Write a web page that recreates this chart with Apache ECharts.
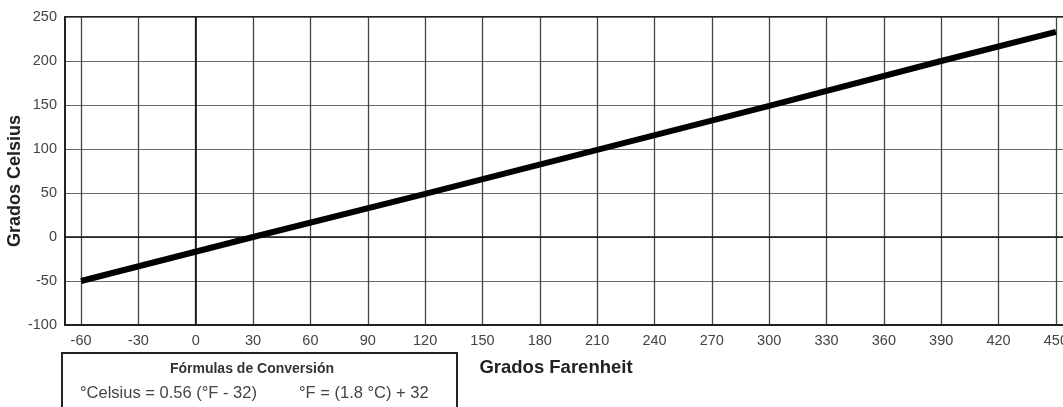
<!DOCTYPE html>
<html>
<head>
<meta charset="utf-8">
<script src="https://cdn.jsdelivr.net/npm/echarts@6/dist/echarts.min.js"></script>
<style>
html,body{margin:0;padding:0;background:#fff;}
#chart{width:1063px;height:407px;}
</style>
</head>
<body>
<div id="chart"></div>
<script>
// Data
const fahrenheit = [-60, 30, 120, 210, 300, 390, 450];
const celsius = [-50, 0, 49, 99, 149, 200, 233];
const xTicks = [-60, -30, 0, 30, 60, 90, 120, 150, 180, 210, 240, 270, 300, 330, 360, 390, 420, 450];
const zeroLines = [{ xAxis: 0 }, { yAxis: 0 }];
const xTitle = 'Grados Farenheit';
const yTitle = 'Grados Celsius';
const boxTitle = 'Fórmulas de Conversión';
const formula1 = '°Celsius = 0.56 (°F - 32)';
const formula2 = '°F = (1.8 °C) + 32';

const chart = echarts.init(document.getElementById('chart'), null, { renderer: 'canvas' });
const font = 'Liberation Sans, Arial, sans-serif';

chart.setOption({
  animation: false,
  backgroundColor: '#fff',
  grid: {
    left: 65, width: 1010, top: 17, bottom: 82,
    outerBoundsMode: 'none', containLabel: false,
    show: true, borderColor: '#222', borderWidth: 2, backgroundColor: 'transparent'
  },
  xAxis: {
    type: 'value',
    min: -68.4, max: 460,
    axisLine: { show: true, onZero: false, lineStyle: { color: '#222', width: 2 } },
    axisTick: { show: false, customValues: xTicks },
    axisLabel: {
      customValues: xTicks, margin: 8, color: '#444', fontSize: 14.5, fontFamily: font,
      showMinLabel: true, showMaxLabel: true
    },
    splitLine: { show: true, lineStyle: { color: '#444', width: 1.3 } }
  },
  yAxis: {
    type: 'value',
    min: -100, max: 250, interval: 50,
    axisLine: { show: true, onZero: false, lineStyle: { color: '#222', width: 2 } },
    axisTick: { show: false },
    axisLabel: { margin: 8, color: '#444', fontSize: 14.5, fontFamily: font },
    splitLine: { show: true, lineStyle: { color: '#6a6a6a', width: 1.2 } }
  },
  series: [{
    type: 'line',
    data: fahrenheit.map((f, i) => [f, celsius[i]]),
    showSymbol: false,
    lineStyle: { color: '#000', width: 6 },
    z: 5,
    markLine: {
      silent: true,
      symbol: 'none',
      label: { show: false },
      lineStyle: { color: '#111', width: 1.6, type: 'solid' },
      data: zeroLines
    }
  }],
  graphic: [
    {
      type: 'text', x: 15, y: 181, rotation: Math.PI / 2,
      style: { text: yTitle, font: 'bold 18px ' + font, fill: '#222', align: 'center', verticalAlign: 'middle' }
    },
    {
      type: 'text', x: 556, y: 368,
      style: { text: xTitle, font: 'bold 18.5px ' + font, fill: '#222', align: 'center', verticalAlign: 'middle' }
    },
    {
      type: 'rect', shape: { x: 62, y: 353, width: 395, height: 70 },
      style: { fill: '#fff', stroke: '#222', lineWidth: 2 }
    },
    {
      type: 'text', x: 252, y: 369,
      style: { text: boxTitle, font: 'bold 14px ' + font, fill: '#333', align: 'center', verticalAlign: 'middle' }
    },
    {
      type: 'text', x: 80, y: 393,
      style: { text: formula1, font: '16.5px ' + font, fill: '#444', align: 'left', verticalAlign: 'middle' }
    },
    {
      type: 'text', x: 299, y: 393,
      style: { text: formula2, font: '16.5px ' + font, fill: '#444', align: 'left', verticalAlign: 'middle' }
    }
  ]
});
</script>
</body>
</html>
